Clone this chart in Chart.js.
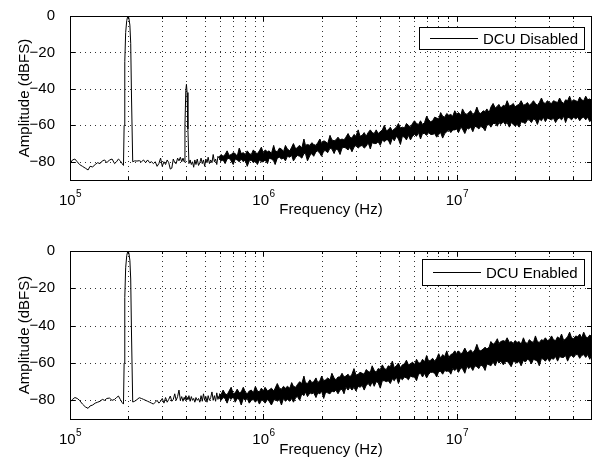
<!DOCTYPE html>
<html>
<head>
<meta charset="utf-8">
<script src="https://cdn.jsdelivr.net/npm/chart.js@4.4.1/dist/chart.umd.min.js"></script>
<style>
  html, body { margin: 0; padding: 0; background: #fff; }
  #wrap { position: relative; width: 595px; height: 470px; }
  .panel { position: absolute; left: 0; width: 595px; height: 235px; }
</style>
</head>
<body>
<div id="wrap">
  <div class="panel" style="top:0"><canvas id="topChart" width="595" height="235"></canvas></div>
  <div class="panel" style="top:235px"><canvas id="bottomChart" width="595" height="235"></canvas></div>
</div>
<script>
// low band: single trace (Hz / dBFS)
const freqLow = [
  1.00e5,1.03e5,1.06e5,1.09e5,1.12e5,1.16e5,1.20e5,1.24e5,1.27e5,1.31e5,1.35e5,1.39e5,
  1.43e5,1.47e5,1.51e5,1.55e5,1.60e5,1.65e5,1.70e5,1.74e5,1.78e5,1.82e5,1.86e5,1.89e5,
  1.905e5,1.92e5,1.94e5,1.965e5,1.99e5,2.015e5,2.04e5,2.06e5,2.08e5,2.11e5,
  2.16e5,2.22e5,2.28e5,2.34e5,2.40e5,2.46e5,2.52e5,2.58e5,2.64e5,2.70e5,
  2.76e5,2.82e5,2.88e5,2.94e5,3.00e5,3.06e5,3.12e5,3.18e5,3.24e5,3.30e5,
  3.36e5,3.42e5,3.48e5,3.54e5,3.60e5,3.66e5,3.72e5,3.78e5,3.84e5,3.89e5,
  3.93e5,3.97e5,4.00e5,4.03e5,4.07e5,
  4.12e5,4.18e5,4.24e5,4.30e5,4.36e5,4.42e5,4.48e5,4.55e5,4.62e5,4.69e5,
  4.76e5,4.83e5,4.90e5,4.97e5,5.04e5,5.11e5,5.18e5,5.26e5,5.34e5,5.42e5,
  5.50e5,5.58e5,5.66e5,5.74e5,5.82e5,5.90e5
];
const disabledLow = [
  -81,-79,-78.5,-80,-81.5,-82.5,-83.5,-84.5,-82.5,-82.8,-81.5,-80.5,
  -81,-79.5,-79,-80.5,-79,-78.5,-81,-80,-78.5,-79.5,-81,-82,
  -60,-25,-9,-2.5,0,-1,-5,-15,-45,-80,
  -79.5,-79.6,-79.4,-80,-79,-80.5,-79,-80.5,-80,-81,
  -80,-82.5,-81,-78,-82.5,-80,-81.5,-79,-80.5,-84,
  -83.5,-78.5,-80.5,-81,-78,-79.5,-77.5,-80,-78,-80,
  -60,-41,-37.5,-42,-62,
  -81,-79,-81.5,-80,-83,-79,-81.5,-78.5,-82,-80.5,
  -78,-81,-79,-82.5,-78.5,-80.5,-77.5,-81,-79,-80.5,
  -76,-80,-78.5,-81.5,-77,-78
];
const enabledLow = [
  -81,-79.5,-78.5,-79,-80,-82,-83.5,-84.3,-83,-82.5,-81.5,-81,
  -80.5,-79.5,-80,-79,-78.8,-80,-79.5,-78.5,-77.7,-79.5,-81.2,-82,
  -60,-25,-9,-2.5,0,-1,-5,-15,-45,-80.9,
  -80.5,-79.6,-78.6,-79,-79.5,-80,-80.5,-81,-81.5,-82,
  -81,-80,-81.5,-80.5,-79,-81.5,-78.5,-81,-79.5,-77.7,
  -80.5,-79.5,-76.5,-80,-78,-74.5,-80,-78,-80.5,-78.5,
  -79.5,-77.5,-80,-78.5,-79.5,
  -77.5,-80.5,-78,-80,-79,-81,-78.5,-80,-79,-81,
  -77.5,-80.5,-76.5,-80,-78,-81,-77.5,-80,-78.5,-75.5,
  -80,-77.5,-80.5,-76,-79.5,-77.5
];

// high band: dense noise, kept as upper / lower envelope (Hz / dBFS)
const freqBand = [
  5.90e5,6.04e5,6.19e5,6.34e5,6.49e5,6.65e5,6.81e5,6.98e5,7.15e5,7.32e5,7.50e5,
  7.68e5,7.87e5,8.06e5,8.25e5,8.45e5,8.66e5,8.87e5,9.09e5,9.31e5,9.53e5,9.76e5,
  1.00e6,1.02e6,1.05e6,1.07e6,1.10e6,1.13e6,1.15e6,1.18e6,1.21e6,1.24e6,1.27e6,1.30e6,
  1.33e6,1.37e6,1.40e6,1.43e6,1.47e6,1.50e6,1.54e6,1.58e6,1.62e6,1.65e6,1.69e6,1.74e6,
  1.78e6,1.82e6,1.87e6,1.91e6,1.96e6,2.00e6,2.05e6,2.10e6,2.15e6,2.21e6,2.26e6,2.32e6,
  2.37e6,2.43e6,2.49e6,2.55e6,2.61e6,2.67e6,2.74e6,2.80e6,2.87e6,2.94e6,3.01e6,3.09e6,
  3.16e6,3.24e6,3.32e6,3.40e6,3.48e6,3.57e6,3.65e6,3.74e6,3.83e6,3.92e6,4.02e6,4.12e6,
  4.22e6,4.32e6,4.42e6,4.53e6,4.64e6,4.75e6,4.87e6,4.99e6,5.11e6,5.23e6,5.36e6,5.49e6,
  5.62e6,5.76e6,5.90e6,6.04e6,6.19e6,6.34e6,6.49e6,6.65e6,6.81e6,6.98e6,7.15e6,7.32e6,
  7.50e6,7.68e6,7.87e6,8.06e6,8.25e6,8.45e6,8.66e6,8.87e6,9.09e6,9.31e6,9.53e6,9.76e6,
  1.00e7,1.02e7,1.05e7,1.07e7,1.10e7,1.13e7,1.15e7,1.18e7,1.21e7,1.24e7,1.27e7,1.30e7,
  1.33e7,1.37e7,1.40e7,1.43e7,1.47e7,1.50e7,1.54e7,1.58e7,1.62e7,1.65e7,1.69e7,1.74e7,
  1.78e7,1.82e7,1.87e7,1.91e7,1.96e7,2.00e7,2.05e7,2.10e7,2.15e7,2.21e7,2.26e7,2.32e7,
  2.37e7,2.43e7,2.49e7,2.55e7,2.61e7,2.67e7,2.74e7,2.80e7,2.87e7,2.94e7,3.01e7,3.09e7,
  3.16e7,3.24e7,3.32e7,3.40e7,3.48e7,3.57e7,3.65e7,3.74e7,3.83e7,3.92e7,4.02e7,4.12e7,
  4.22e7,4.32e7,4.42e7,4.53e7,4.64e7,4.75e7,4.87e7,5.00e7
];
const disabledUpper = [
  -77.5,-76,-77,-76,-74,-76.5,-76,-75,-75.5,-77,-72.5,
  -75.5,-75,-76,-74,-75.5,-76,-73.5,-75,-75.5,-74,-72,
  -75.5,-73.5,-74.5,-74,-75.5,-71,-74,-74.5,-72.5,-73,-74.5,-71,
  -73,-74,-72,-70,-73,-72,-71,-72.5,-67.5,-71,-70.5,-71,
  -69.5,-70.5,-71,-69.5,-67.5,-70,-68.5,-69,-70,-65.5,-68,-68.5,
  -68,-66.5,-68,-67.5,-68,-66.5,-64.5,-66.5,-67,-65,-66,-62.5,
  -66,-65.5,-64,-66,-64,-62.5,-64,-64.5,-62.5,-64.5,-63.5,-62.5,
  -60,-63,-62.5,-61,-63,-62,-61,-59,-61.5,-61,-61.5,-59,
  -60,-61,-59,-57.5,-59,-59.5,-57.5,-59.5,-58.5,-55,-57,-58,
  -57.5,-55.5,-56,-56.5,-53,-55,-55.5,-53.5,-54.5,-54,-55,-52,
  -54,-53,-54.5,-51,-53.5,-54,-53,-52,-54,-53,-50,-53,
  -53.5,-52,-52.5,-51,-53,-50,-48,-50.5,-49.5,-48.5,-50.5,-49,
  -49.5,-46.5,-49.5,-49,-48,-50,-49,-48.5,-46.5,-49,-48.5,-47.5,
  -49,-48,-46.5,-48,-49,-47.5,-45,-47.5,-48,-46.5,-47.5,-48,
  -46.5,-47,-47.5,-45,-47,-48,-46,-46.5,-44,-47,-46,-46.5,
  -47,-44.5,-46,-46.5,-44,-46,-45.5,-46.5
];
const disabledLower = [
  -78.5,-79.5,-79,-81,-78.5,-78,-79.5,-81.5,-78.5,-79,-80,
  -78.5,-80,-79,-82.5,-79.5,-79,-80.5,-79.5,-81.5,-79,-80,
  -80,-79,-81,-78,-78.5,-79.5,-81.5,-78,-77.5,-78.5,-78,-79.5,
  -77,-77.5,-76.5,-79.5,-77.5,-76.5,-77,-78,-75.5,-75.5,-79.5,-76.5,
  -75.5,-77,-74.5,-74,-75.5,-77,-74,-74,-75,-72.5,-73,-75.5,
  -73,-73.5,-76,-72.5,-72,-72.5,-73.5,-72,-74.5,-72,-71,-72.5,
  -71.5,-71,-72.5,-71.5,-69.5,-73,-69.5,-70,-70,-69,-71,-68,
  -69,-68,-68,-70.5,-67,-68.5,-66,-67.5,-70.5,-66,-66.5,-68,
  -65.5,-68,-66,-65,-66,-64,-67.5,-64.5,-64.5,-65.5,-64,-65,
  -65,-64.5,-66.5,-65,-64,-67,-64.5,-63.5,-62.5,-64,-62.5,-62.5,
  -62,-64,-61,-62,-64.5,-61.5,-62,-61,-63.5,-60.5,-61,-62,
  -60.5,-61.5,-63,-60,-59.5,-61,-59,-59,-60.5,-58.5,-59.5,-58,
  -59.5,-58.5,-61,-58.5,-59.5,-60.5,-59.5,-61,-58,-58.5,-59,-57,
  -57,-58.5,-56.5,-57,-59.5,-56.5,-57.5,-55.5,-58,-56,-56.5,-57,
  -56,-58.5,-56.5,-56,-57,-55,-58.5,-55.5,-56,-57,-55.5,-56.5,
  -55.5,-57.5,-56,-55.5,-57,-55.5,-58,-56
];
const enabledUpper = [
  -76.5,-77,-74.5,-76.5,-77,-75,-73,-76.5,-76,-74,-76,
  -75.5,-73,-75.5,-76.5,-75,-74.5,-76,-72.5,-75,-75.5,-73.5,
  -75,-73,-75,-74.5,-73.5,-75,-73.5,-71,-73.5,-74,-72.5,-73.5,
  -72.5,-73.5,-70.5,-72.5,-73,-71.5,-70,-71,-67,-70.5,-71,-69,
  -70.5,-70,-68,-70.5,-69.5,-67,-69.5,-69,-68,-69,-65.5,-68,
  -69,-67.5,-67.5,-65.5,-67.5,-67,-66,-67.5,-66,-63,-66.5,-66,
  -65,-65.5,-66,-63.5,-64.5,-65,-61.5,-64,-65,-63,-63.5,-61,
  -63,-63.5,-61.5,-62,-59,-62.5,-61.5,-60,-62.5,-61,-60.5,-58.5,
  -61,-60.5,-59.5,-61,-58,-60,-60,-58,-59.5,-56,-59,-58.5,
  -57.5,-59,-57.5,-55,-57.5,-55.5,-56.5,-53.5,-57,-55.5,-55,-53.5,
  -55,-53.5,-55,-54.5,-52,-54.5,-54,-53,-54.5,-53,-50,-53,
  -53.5,-52.5,-51.5,-52.5,-51.5,-48.5,-50,-49,-47,-49.5,-48.5,-48,
  -48.5,-46.5,-49,-48.5,-49.5,-48,-49,-48.5,-50,-46.5,-49,-49.5,
  -47.5,-48.5,-49,-45.5,-48.5,-49,-47.5,-48,-46.5,-48,-47.5,-45.5,
  -47.5,-48,-46,-47,-44.5,-48,-47,-46,-43.5,-46.5,-47,-45.5,
  -46,-44.5,-46.5,-43.5,-46,-46.5,-45,-46
];
const enabledLower = [
  -78.5,-80,-78.5,-79,-81.5,-78.5,-79.5,-78,-81,-79,-79.5,
  -82.5,-79,-80,-79,-81.5,-80,-79.5,-81,-79.5,-82,-80,
  -80,-81.5,-79.5,-80.5,-82.5,-80,-79.5,-80.5,-79.5,-82.5,-79,-80.5,
  -79.5,-80.5,-79,-81,-78.5,-78,-80,-76.5,-77.5,-75.5,-78,-76,
  -76.5,-76,-78.5,-76,-76.5,-75,-79,-75.5,-76,-76.5,-75,-75.5,
  -74.5,-76.5,-74.5,-74,-76.5,-73,-74.5,-73,-74.5,-73,-75,-72.5,
  -73,-72,-74.5,-72,-71,-72.5,-70,-72.5,-70,-70.5,-73.5,-69.5,
  -69.5,-70,-69.5,-71,-68.5,-69.5,-67.5,-71,-68,-69,-67.5,-68,
  -69,-67,-67.5,-67.5,-69.5,-66,-65.5,-67.5,-65.5,-68,-66,-65,
  -65,-65.5,-67.5,-64.5,-64.5,-66,-64,-64.5,-64,-66,-63,-64,
  -63,-65,-62.5,-63,-65.5,-61.5,-63,-62,-64,-61.5,-62,-63,
  -61,-62,-64,-60.5,-61,-61.5,-59.5,-61.5,-58.5,-60,-59,-61,
  -59.5,-59,-60.5,-62,-59,-59.5,-60,-59,-61.5,-58.5,-59.5,-58,
  -58.5,-60.5,-58,-58.5,-59,-61.5,-57.5,-58,-59,-57.5,-59,-57.5,
  -58,-56.5,-59,-56.5,-57,-57,-56,-59,-56.5,-56,-57,-55.5,
  -55.5,-57.5,-56,-55.5,-57,-55.5,-58,-55
];

// axes
const yTicks = [-80, -60, -40, -20, 0];
const xMajor = [1e5, 1e6, 1e7];
const xGrid = [1e5,2e5,3e5,4e5,5e5,6e5,7e5,8e5,9e5,
               1e6,2e6,3e6,4e6,5e6,6e6,7e6,8e6,9e6,
               1e7,2e7,3e7,4e7];

const FONT = "'Liberation Sans', Arial, Helvetica, sans-serif";
Chart.defaults.font.family = FONT;
Chart.defaults.font.size = 15;
Chart.defaults.color = '#000';

const pts = (xs, ys) => xs.map((f, i) => ({ x: f, y: ys[i] }));

// matlab-style box, dotted grid, inward ticks, 10^n labels, legend
const matlabAxes = {
  id: 'matlabAxes',
  beforeDatasetsDraw(chart) {
    const { ctx, chartArea: a, scales: { x, y } } = chart;
    ctx.save();
    ctx.strokeStyle = '#333';
    ctx.lineWidth = 1;
    ctx.setLineDash([1, 4]);
    ctx.beginPath();
    xGrid.forEach(v => {
      const px = Math.round(x.getPixelForValue(v)) + 0.5;
      ctx.moveTo(px, a.top); ctx.lineTo(px, a.bottom);
    });
    yTicks.forEach(v => {
      const py = Math.round(y.getPixelForValue(v)) + 0.5;
      ctx.moveTo(a.left, py); ctx.lineTo(a.right, py);
    });
    ctx.stroke();
    ctx.restore();
  },
  afterDatasetsDraw(chart) {
    const { ctx, chartArea: a, scales: { x, y } } = chart;
    ctx.save();
    ctx.strokeStyle = '#000';
    ctx.lineWidth = 1;
    ctx.beginPath();
    xGrid.forEach(v => {
      const px = Math.round(x.getPixelForValue(v)) + 0.5;
      const len = xMajor.includes(v) ? 5 : 3;
      ctx.moveTo(px, a.bottom); ctx.lineTo(px, a.bottom - len);
      ctx.moveTo(px, a.top); ctx.lineTo(px, a.top + len);
    });
    yTicks.forEach(v => {
      const py = Math.round(y.getPixelForValue(v)) + 0.5;
      ctx.moveTo(a.left, py); ctx.lineTo(a.left + 5, py);
      ctx.moveTo(a.right, py); ctx.lineTo(a.right - 5, py);
    });
    ctx.stroke();
    const l = Math.round(a.left), t = Math.round(a.top);
    ctx.strokeRect(l + 0.5, t + 0.5, Math.round(a.right) - l - 1, Math.round(a.bottom) - t);

    // x tick labels 10^n
    ctx.fillStyle = '#000';
    ctx.textAlign = 'left';
    ctx.textBaseline = 'alphabetic';
    xMajor.forEach(v => {
      const px = x.getPixelForValue(v);
      const exp = String(Math.round(Math.log10(v)));
      ctx.font = '15px ' + FONT;
      const w1 = ctx.measureText('10').width;
      ctx.font = '10px ' + FONT;
      const w2 = ctx.measureText(exp).width;
      const x0 = px - (w1 + w2) / 2;
      const by = a.bottom + 25;
      ctx.font = '15px ' + FONT;
      ctx.fillText('10', x0, by);
      ctx.font = '10px ' + FONT;
      ctx.fillText(exp, x0 + w1 + 0.5, by - 8);
    });
    ctx.restore();
  },
  afterDraw(chart) {
    const { ctx, chartArea: a } = chart;
    const o = chart.options.plugins.matlabAxes;
    const label = chart.data.datasets[0].label;
    ctx.save();
    ctx.font = '15px ' + FONT;
    const tw = ctx.measureText(label).width;
    const w = Math.round(11 + 48 + 5 + tw + 6);
    const h = o.legendHeight;
    const right = Math.round(a.right) - 8;
    const top = Math.round(a.top) + o.legendOffset;
    const left = right - w;
    ctx.fillStyle = '#fff';
    ctx.fillRect(left, top, w, h);
    ctx.strokeStyle = '#000';
    ctx.lineWidth = 1;
    ctx.strokeRect(left + 0.5, top + 0.5, w, h);
    const cy = Math.round(top + h / 2) + 0.5;
    ctx.beginPath();
    ctx.moveTo(left + 11, cy); ctx.lineTo(left + 59, cy);
    ctx.stroke();
    ctx.fillStyle = '#000';
    ctx.textAlign = 'left';
    ctx.textBaseline = 'middle';
    ctx.fillText(label, left + 64, cy + 1);
    ctx.restore();
  }
};

function makeChart(id, label, lowVals, upper, lower, padTop, axisHeight, titlePad, legendOffset, legendHeight) {
  const line = { borderColor: '#000', borderWidth: 1, pointRadius: 0, pointHoverRadius: 0,
                 tension: 0, borderJoinStyle: 'round' };
  return new Chart(document.getElementById(id), {
    type: 'line',
    data: {
      datasets: [
        { ...line, label: label, data: pts(freqLow, lowVals), fill: false },
        { ...line, label: 'upper', data: pts(freqBand, upper), fill: false },
        { ...line, label: 'lower', data: pts(freqBand, lower), fill: '-1', backgroundColor: '#000' }
      ]
    },
    options: {
      responsive: false,
      animation: false,
      devicePixelRatio: 1,
      events: [],
      layout: { padding: { top: padTop, right: 3, left: 0, bottom: 0 } },
      plugins: {
        legend: { display: false },
        tooltip: { enabled: false },
        matlabAxes: { legendOffset: legendOffset, legendHeight: legendHeight }
      },
      scales: {
        x: {
          type: 'logarithmic',
          min: 1e5,
          max: 5e7,
          grid: { display: false },
          border: { display: false },
          ticks: { display: false },
          afterBuildTicks: s => { s.ticks = xGrid.map(v => ({ value: v })); },
          afterFit: s => { s.height = axisHeight; },
          title: { display: true, text: 'Frequency (Hz)', font: { size: 15 },
                   padding: { top: 0, bottom: titlePad } }
        },
        y: {
          min: -90,
          max: 0,
          grid: { display: false },
          border: { display: false },
          afterBuildTicks: s => { s.ticks = yTicks.map(v => ({ value: v })); },
          afterFit: s => { s.width = 70; },
          ticks: {
            padding: 7,
            font: { size: 15 },
            callback: v => (v < 0 ? '\u2212' + Math.abs(v) : String(v))
          },
          title: { display: true, text: 'Amplitude (dBFS)', font: { size: 15 },
                   padding: { top: 16, bottom: 0 } }
        }
      }
    },
    plugins: [matlabAxes]
  });
}

makeChart('topChart', 'DCU Disabled', disabledLow, disabledUpper, disabledLower, 12, 55, 16, 11, 22);
makeChart('bottomChart', 'DCU Enabled', enabledLow, enabledUpper, enabledLower, 15, 51, 11, 8, 26);
</script>
</body>
</html>
